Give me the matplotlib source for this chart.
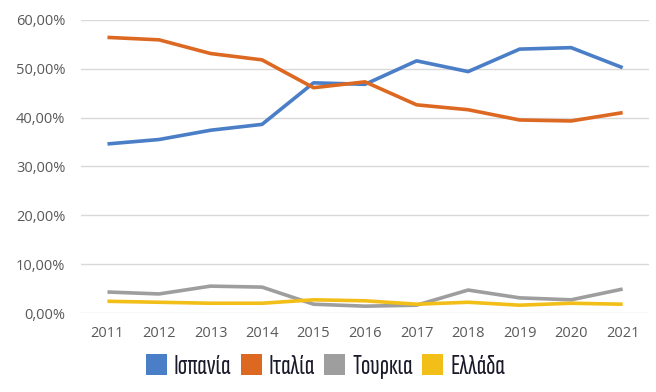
import matplotlib.pyplot as plt
from matplotlib.patches import Patch
from matplotlib.ticker import FuncFormatter

years = [2011, 2012, 2013, 2014, 2015, 2016, 2017, 2018, 2019, 2020, 2021]
spain = [34.6, 35.5, 37.4, 38.6, 47.1, 46.8, 51.6, 49.4, 54.0, 54.3, 50.2]
italy = [56.4, 55.9, 53.1, 51.8, 46.1, 47.3, 42.6, 41.6, 39.5, 39.3, 41.0]
turkey = [4.3, 3.9, 5.5, 5.3, 1.8, 1.4, 1.6, 4.7, 3.1, 2.7, 4.9]
greece = [2.4, 2.2, 2.0, 2.0, 2.7, 2.5, 1.8, 2.2, 1.6, 2.0, 1.8]

labels = ['Ισπανία', 'Ιταλία', 'Τουρκια', 'Ελλάδα']
colors = ['#4A7EC7', '#DC6822', '#9E9E9E', '#F2BE18']

plt.rcParams['font.family'] = ['Open Sans', 'DejaVu Sans']

fig = plt.figure(figsize=(6.56, 3.92), dpi=100)
ax = fig.add_axes([0.123, 0.2015, 0.867, 0.748])

for vals, c in zip([spain, italy, turkey, greece], colors):
    ax.plot(years, [v / 100 for v in vals], color=c, linewidth=2.6, solid_capstyle='butt')

ax.set_xlim(2010.48, 2021.52)
ax.set_ylim(0, 0.6)
ax.set_xticks(years)
ax.set_yticks([0, 0.1, 0.2, 0.3, 0.4, 0.5, 0.6])
ax.yaxis.set_major_formatter(FuncFormatter(lambda v, p: f'{v*100:.2f}%'.replace('.', ',')))
ax.grid(axis='y', color='#D9D9D9', linewidth=1)
ax.set_axisbelow(True)
for s in ax.spines.values():
    s.set_visible(False)
ax.tick_params(length=0, labelsize=10.5, labelcolor='#595959', pad=9)
ax.tick_params(axis='y', pad=11)

handles = [Patch(facecolor=c, label=l) for c, l in zip(colors, labels)]
fig.legend(handles=handles, loc='center', bbox_to_anchor=(0.496, 0.064), ncol=4, frameon=False,
           prop={'family': ['Sofia Sans Extra Condensed', 'DejaVu Sans'], 'size': 20, 'weight': 'semibold'},
           handlelength=0.75, handleheight=0.75, handletextpad=0.25, columnspacing=0.35,
           labelcolor='#1A1A2A', borderpad=0)

fig.savefig('out.png', dpi=100)
